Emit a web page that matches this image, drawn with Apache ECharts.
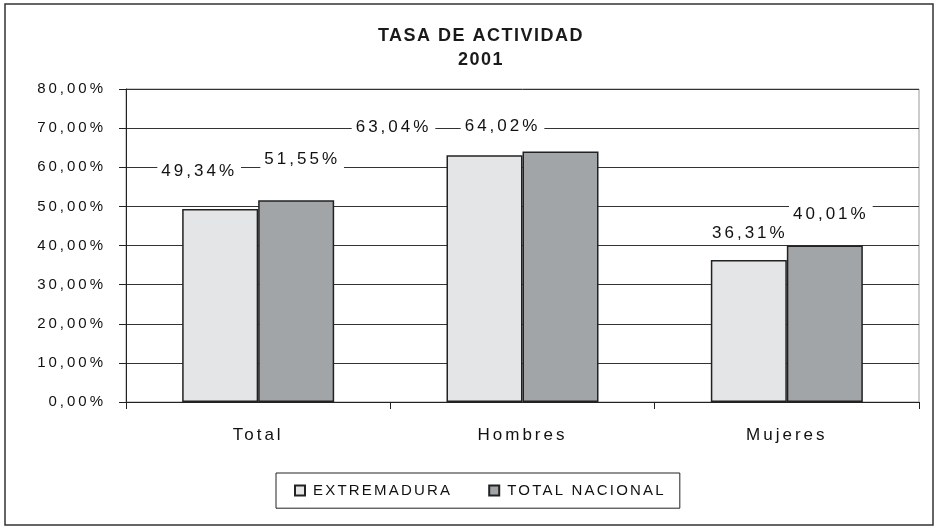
<!DOCTYPE html>
<html>
<head>
<meta charset="utf-8">
<script src="https://cdn.jsdelivr.net/npm/echarts@6/dist/echarts.min.js"></script>
<style>
  html, body { margin: 0; padding: 0; background: #fff; }
  #chart { width: 938px; height: 530px; }
</style>
</head>
<body>
<div id="chart"></div>
<script>
var categories = ['Total', 'Hombres', 'Mujeres'];
var seriesNames = ['EXTREMADURA', 'TOTAL NACIONAL'];
var extremadura = [49.34, 63.04, 36.31];
var totalNacional = [51.55, 64.02, 40.01];

// texto espaciado como en el grafico original
(function () {
    var proto = CanvasRenderingContext2D.prototype;
    ['fillText', 'strokeText', 'measureText'].forEach(function (fn) {
        var orig = proto[fn];
        proto[fn] = function () {
            var f = this.font || '';
            if (f.indexOf('bold') >= 0 || f.indexOf('700') >= 0) {
                this.letterSpacing = '1.5px';
            } else if (f.indexOf('Arial') >= 0) {
                this.letterSpacing = '3px';
            } else {
                this.letterSpacing = '2.2px';
            }
            return orig.apply(this, arguments);
        };
    });
})();

function pct(v) {
    return v.toFixed(2).replace('.', ',') + '%';
}

var chart = echarts.init(document.getElementById('chart'));

// desplazamiento de las etiquetas (como en el original de Excel)
var offsetsA = [[-21, -22], [-91, -12], [1, -11]];
var offsetsB = [[6, -25], [-58, -9], [6, -15]];

function withOffsets(values, offs) {
    return values.map(function (v, i) {
        return { value: v, label: { offset: offs[i] } };
    });
}

var labelStyle = {
    show: true,
    position: 'top',
    distance: 4,
    color: '#111',
    fontSize: 17,
    fontFamily: 'Liberation Sans, Arial, sans-serif',
    backgroundColor: '#fff',
    padding: [2, 4],
    formatter: function (p) { return pct(p.value); }
};

var option = {
    animation: false,
    textStyle: { fontFamily: 'Liberation Sans, Arial, sans-serif' },
    graphic: [{
        type: 'rect',
        shape: { x: 5, y: 4, width: 928, height: 521 },
        style: { fill: 'none', stroke: '#333', lineWidth: 1.5 },
        silent: true
    }],
    title: {
        text: 'TASA DE ACTIVIDAD\n2001',
        left: 476,
        top: 19,
        textAlign: 'center',
        textStyle: { fontSize: 18, fontWeight: 'bold', color: '#1a1a1a', lineHeight: 24 }
    },
    legend: {
        data: seriesNames,
        top: 473,
        left: 276,
        orient: 'horizontal',
        itemWidth: 10,
        itemHeight: 10,
        itemGap: 36,
        padding: [9, 14, 9, 18],
        borderColor: '#222',
        borderWidth: 1,
        icon: 'rect',
        textStyle: { fontSize: 15, color: '#111', fontFamily: 'Liberation Sans', padding: [0, 0, 0, 3] }
    },
    grid: {
        left: 126,
        right: 19,
        top: 89,
        bottom: 128,
        show: true,
        borderColor: '#999',
        borderWidth: 1
    },
    xAxis: {
        type: 'category',
        data: categories,
        axisLine: { lineStyle: { color: '#222', width: 1 } },
        axisTick: { show: true, length: 7, lineStyle: { color: '#222' } },
        axisLabel: { fontSize: 17, color: '#111', margin: 23 }
    },
    yAxis: {
        type: 'value',
        min: 0,
        max: 80,
        interval: 10,
        axisLine: { show: true, lineStyle: { color: '#222', width: 1 } },
        axisTick: { show: true, length: 7, lineStyle: { color: '#222' } },
        axisLabel: {
            fontSize: 15,
            color: '#111',
            margin: 20,
            formatter: function (v) { return pct(v); }
        },
        splitLine: { lineStyle: { color: '#333', width: 1 } }
    },
    series: [{
        name: seriesNames[0],
        type: 'bar',
        barWidth: 76,
        barGap: '0%',
        data: withOffsets(extremadura, offsetsA),
        itemStyle: { color: '#e4e5e7', borderColor: '#222', borderWidth: 1.5 },
        label: labelStyle
    }, {
        name: seriesNames[1],
        type: 'bar',
        barWidth: 76,
        barGap: '0%',
        data: withOffsets(totalNacional, offsetsB),
        itemStyle: { color: '#a2a5a8', borderColor: '#222', borderWidth: 1.5 },
        label: labelStyle
    }]
};

chart.setOption(option);
</script>
</body>
</html>
